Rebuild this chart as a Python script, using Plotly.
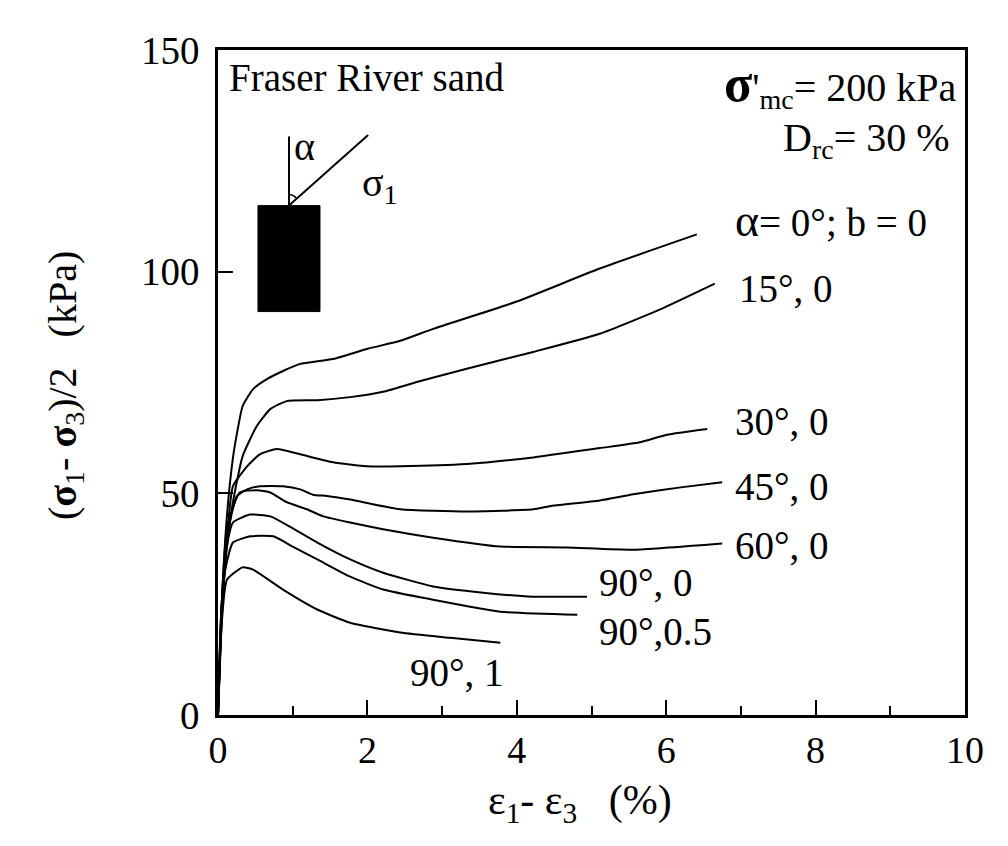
import plotly.graph_objects as go

# ---- data ----
x_a0 = [0, 0.05, 0.12, 0.2, 0.27, 0.33, 0.47, 0.66, 0.87, 1.10, 1.54, 2.0, 2.44, 2.88, 3.99, 5.11, 6.41]
y_a0 = [0, 25, 45, 58, 65, 69.7, 73.5, 75.8, 77.6, 79.2, 80.3, 82.6, 84.4, 87.1, 93.2, 100.7, 108.4]

x_a15 = [0, 0.05, 0.12, 0.2, 0.33, 0.52, 0.70, 0.92, 1.33, 1.77, 2.21, 2.66, 3.33, 4.22, 5.11, 5.92, 6.65]
y_a15 = [0, 22, 38, 48, 58.4, 65.2, 69.0, 70.8, 71.0, 71.7, 72.9, 75.1, 78.1, 81.9, 86.0, 91.5, 97.3]

x_a30 = [0, 0.05, 0.12, 0.2, 0.39, 0.56, 0.79, 1.10, 1.54, 1.99, 2.44, 3.33, 4.22, 5.11, 5.65, 6.01, 6.55]
y_a30 = [0, 22, 40, 51.6, 56.1, 58.8, 60.0, 58.8, 57.0, 56.1, 56.1, 56.6, 58.1, 60.2, 61.5, 63.2, 64.5]

x_a45 = [0, 0.05, 0.12, 0.25, 0.39, 0.56, 0.87, 1.10, 1.27, 1.46, 1.77, 2.44, 3.33, 4.22, 4.44, 5.11, 5.56, 6.22, 6.75]
y_a45 = [0, 24, 40, 49.3, 50.9, 51.6, 51.6, 50.9, 49.7, 49.4, 48.6, 46.4, 45.9, 46.4, 47.1, 48.4, 49.8, 51.4, 52.5]

x_a60 = [0, 0.05, 0.12, 0.29, 0.52, 0.70, 0.92, 1.19, 1.41, 1.77, 2.21, 2.88, 3.78, 4.67, 5.56, 6.75]
y_a60 = [0, 25, 42, 50.2, 50.7, 50.2, 48.0, 46.4, 44.8, 43.4, 41.9, 40.0, 38.0, 37.8, 37.3, 38.7]

x_a90b0 = [0, 0.04, 0.1, 0.2, 0.43, 0.70, 0.96, 1.33, 1.77, 2.21, 2.88, 3.55, 4.22, 4.94]
y_a90b0 = [0, 22, 36, 43.4, 45.2, 44.8, 42.5, 38.9, 35.1, 32.1, 29.0, 27.6, 26.7, 26.7]

x_a90b05 = [0, 0.04, 0.1, 0.2, 0.43, 0.74, 1.0, 1.33, 1.77, 2.21, 2.88, 3.78, 4.81]
y_a90b05 = [0, 22, 33, 38.9, 40.3, 40.3, 38.0, 35.1, 31.2, 28.3, 26.0, 23.3, 22.6]

x_a90b1 = [0, 0.04, 0.12, 0.33, 0.47, 0.87, 1.33, 1.77, 2.44, 3.11, 3.78]
y_a90b1 = [0, 18, 30.5, 33.3, 32.8, 28.3, 23.8, 20.8, 18.6, 17.4, 16.3]

series = [
    ("α=0°; b=0", x_a0, y_a0),
    ("15°, 0", x_a15, y_a15),
    ("30°, 0", x_a30, y_a30),
    ("45°, 0", x_a45, y_a45),
    ("60°, 0", x_a60, y_a60),
    ("90°, 0", x_a90b0, y_a90b0),
    ("90°, 0.5", x_a90b05, y_a90b05),
    ("90°, 1", x_a90b1, y_a90b1),
]

x_ticks = [0, 2, 4, 6, 8, 10]
y_ticks = [0, 50, 100, 150]

FONT = "Liberation Serif, Times New Roman, serif"
FS = 39

fig = go.Figure()
for name, xs, ys in series:
    fig.add_trace(go.Scatter(x=xs, y=ys, mode="lines", name=name,
                             line=dict(color="black", width=2, shape="spline", smoothing=0.5),
                             showlegend=False, hoverinfo="skip"))

# curve labels
labels = [
    ("<span style='font-size:46px'>α</span>= 0°; b = 0", 6.89, 111.5),
    ("15°, 0", 6.95, 96.2),
    ("30°, 0", 6.89, 66.1),
    ("45°, 0", 6.89, 51.6),
    ("60°, 0", 6.89, 38.2),
    ("90°, 0", 5.07, 29.9),
    ("90°,0.5", 5.07, 18.8),
    ("90°, 1", 2.54, 9.7),
]
ann = []
for t, x, y in labels:
    ann.append(dict(text=t, x=x, y=y, xref="x", yref="y", xanchor="left", yanchor="middle",
                    showarrow=False, font=dict(family=FONT, size=FS, color="black")))

L, R, T, B = 218, 43, 50, 131
W, H = 1008, 846
pw, ph = W - L - R, H - T - B

ann += [
    dict(text="Fraser River sand", x=0.12, y=143.7, xref="x", yref="y", xanchor="left", yanchor="middle",
         showarrow=False, font=dict(family=FONT, size=FS, color="black")),
    dict(text="<b><span style='font-size:52px'>σ</span></b>'<sub>mc</sub>= 200 kPa", x=9.92, y=142.0, xref="x", yref="y",
         xanchor="right", yanchor="middle", showarrow=False, font=dict(family=FONT, size=40, color="black")),
    dict(text="D<sub>rc</sub>= 30 %", x=9.82, y=129.8, xref="x", yref="y",
         xanchor="right", yanchor="middle", showarrow=False, font=dict(family=FONT, size=40, color="black")),
    dict(text="α", x=1.16, y=128.3, xref="x", yref="y", xanchor="center", yanchor="middle",
         showarrow=False, font=dict(family=FONT, size=40, color="black")),
    dict(text="σ<sub>1</sub>", x=2.17, y=119.5, xref="x", yref="y", xanchor="center", yanchor="middle",
         showarrow=False, font=dict(family=FONT, size=40, color="black")),
    # axis titles
    dict(text="ε<sub>1</sub>- ε<sub>3</sub>   (%)", x=(580 - L) / pw, y=(H - B - 803) / ph,
         xref="paper", yref="paper", xanchor="center", yanchor="middle",
         showarrow=False, font=dict(family=FONT, size=42, color="black")),
    dict(text="(<b>σ</b><sub>1</sub>- <b>σ</b><sub>3</sub>)/2   (kPa)", x=(65 - L) / pw, y=(H - B - 386) / ph,
         xref="paper", yref="paper", xanchor="center", yanchor="middle",
         textangle=-90, showarrow=False, font=dict(family=FONT, size=40, color="black")),
]

shapes = [
    dict(type="rect", xref="x", yref="y", x0=0.535, x1=1.365, y0=91.0, y1=114.9,
         fillcolor="black", line=dict(color="black", width=1)),
    dict(type="line", xref="x", yref="y", x0=0.95, y0=114.9, x1=0.95, y1=130.5,
         line=dict(color="black", width=2)),
    dict(type="line", xref="x", yref="y", x0=0.95, y0=114.9, x1=2.01, y1=130.8,
         line=dict(color="black", width=2)),
    dict(type="path", xref="x", yref="y", path="M 0.95,117.4 Q 1.0,117.4 1.05,116.6",
         line=dict(color="black", width=1.5)),
]

fig.update_layout(
    width=W, height=H,
    margin=dict(l=L, r=R, t=T, b=B),
    paper_bgcolor="white", plot_bgcolor="white",
    annotations=ann, shapes=shapes,
    font=dict(family=FONT, color="black"),
)
fig.update_xaxes(range=[0, 10], tickvals=x_ticks, ticktext=[str(v) for v in x_ticks],
                 ticks="inside", ticklen=15, tickwidth=2, tickcolor="black",
                 minor=dict(tickmode="linear", dtick=1, ticks="inside", ticklen=9, tickwidth=2, tickcolor="black"),
                 showline=True, linecolor="black", linewidth=2.5, mirror=True,
                 showgrid=False, zeroline=False, ticklabelstandoff=0,
                 tickfont=dict(family=FONT, size=38, color="black"))
fig.update_yaxes(range=[0, 150], tickvals=y_ticks, ticktext=[str(v) for v in y_ticks],
                 ticks="inside", ticklen=15, tickwidth=2, tickcolor="black",
                 showline=True, linecolor="black", linewidth=2.5, mirror=True,
                 showgrid=False, zeroline=False, ticklabelstandoff=8,
                 tickfont=dict(family=FONT, size=39, color="black"))

fig.write_html("out.html")
